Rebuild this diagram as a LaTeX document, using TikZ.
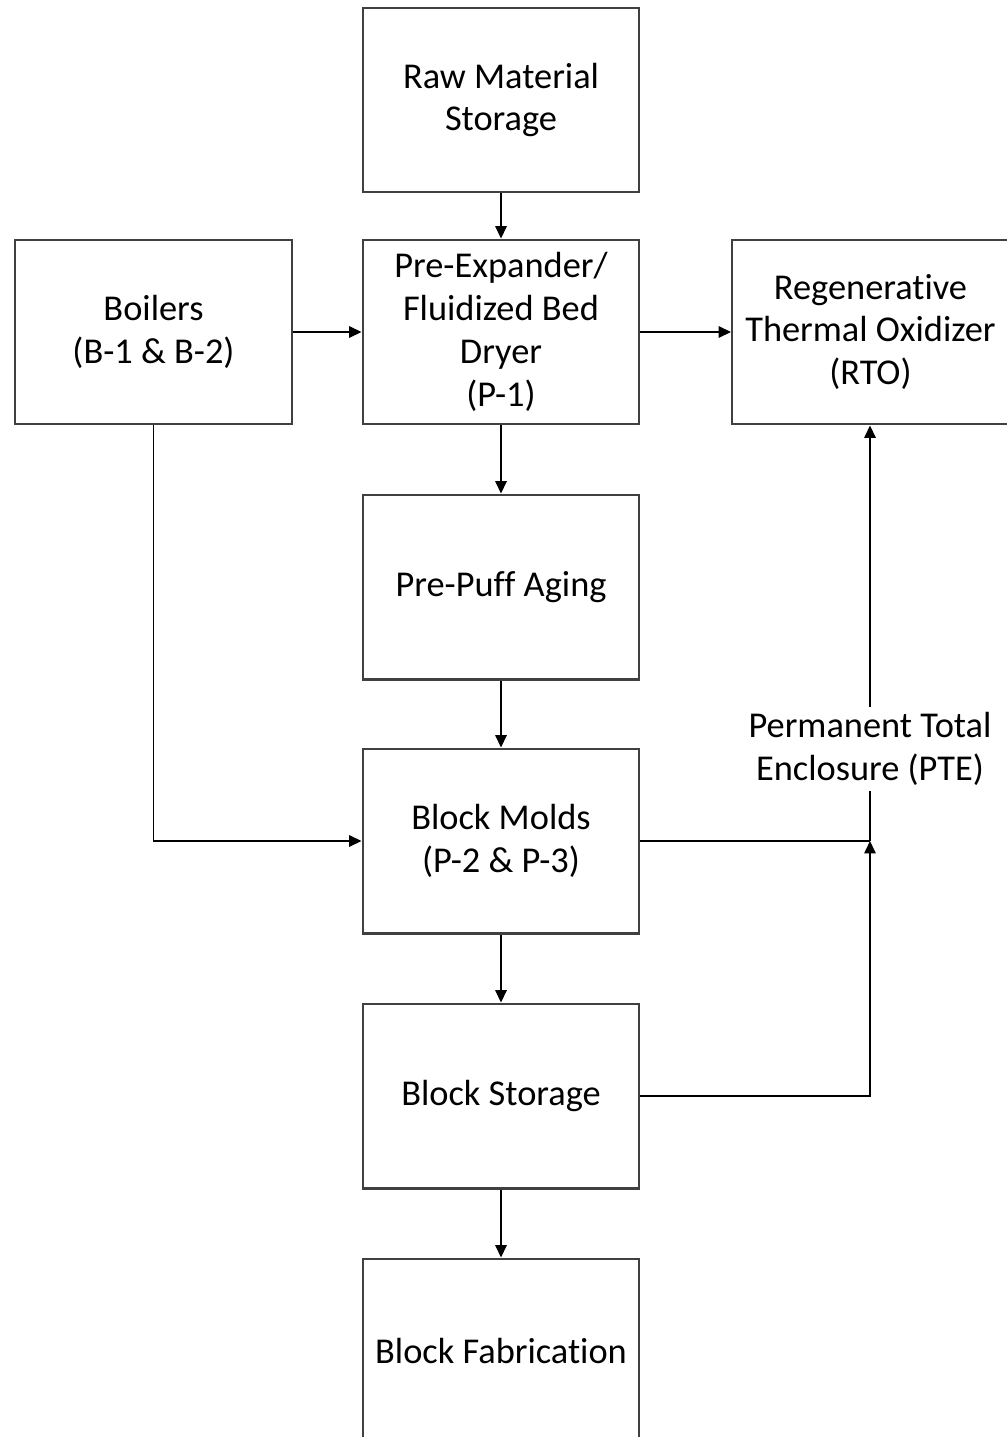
\documentclass[tikz,border=0pt]{standalone}
\usepackage{fontspec}
\setmainfont{Carlito}[Ligatures={NoCommon,NoContextual}]
\usetikzlibrary{arrows.meta}

\begin{document}
\begin{tikzpicture}[x=0.02cm, y=-0.02cm]
	\useasboundingbox (0,0) rectangle (1007,1437);
	\begin{scope}[every node/.style = {rectangle, draw=black!75, line width=1.15pt,
			minimum width=5.54cm, minimum height=3.70cm, align=center,
			font=\fontsize{20.7}{24.4}\selectfont}]
		\node (RMS) at (501,100) {Raw Material\\Storage};
		\node (BLR) at (153.5,332) {Boilers\\(B-1 \& B-2)};
		\node (PE) at (501,332) {Pre-Expander/\\Fluidized Bed\\Dryer\\(P-1)};
		\node (RTO) at (870.5,332) {Regenerative\\Thermal Oxidizer\\(RTO)};
		\node (PPA) at (501,587) {Pre-Puff Aging};
		\node (BM) at (501,841) {Block Molds\\(P-2 \& P-3)};
		\node (BS) at (501,1096) {Block Storage};
		\node (BF) at (501,1351) {Block Fabrication};
	\end{scope}
	\node [align=center, inner sep=3pt, font=\fontsize{20.7}{24.4}\selectfont]
		(PTE) at (870,749) {Permanent Total\\Enclosure (PTE)};
	\coordinate (J) at (870,841);
	\begin{scope}[>={Triangle[length=7pt, width=6.5pt]},
			every edge/.style={draw=black, line width=0.75pt}]
		\path [->] (RMS) edge (PE);
		\path [->] (BLR) edge (PE);
		\path [->] (PE) edge (RTO);
		\path [->] (PE) edge (PPA);
		\path [->] (PPA) edge (BM);
		\path [->] (BM) edge (BS);
		\path [->] (BS) edge (BF);
		\path [-] (BM) edge (J);
		\path [-] (J) edge (PTE);
		\path [->] (PTE) edge (RTO.south -| PTE);
		\draw [->, line width=0.75pt] (BLR) |- (BM);
		\draw [->, line width=0.75pt] (BS) -| (J);
	\end{scope}
\end{tikzpicture}
\end{document}
